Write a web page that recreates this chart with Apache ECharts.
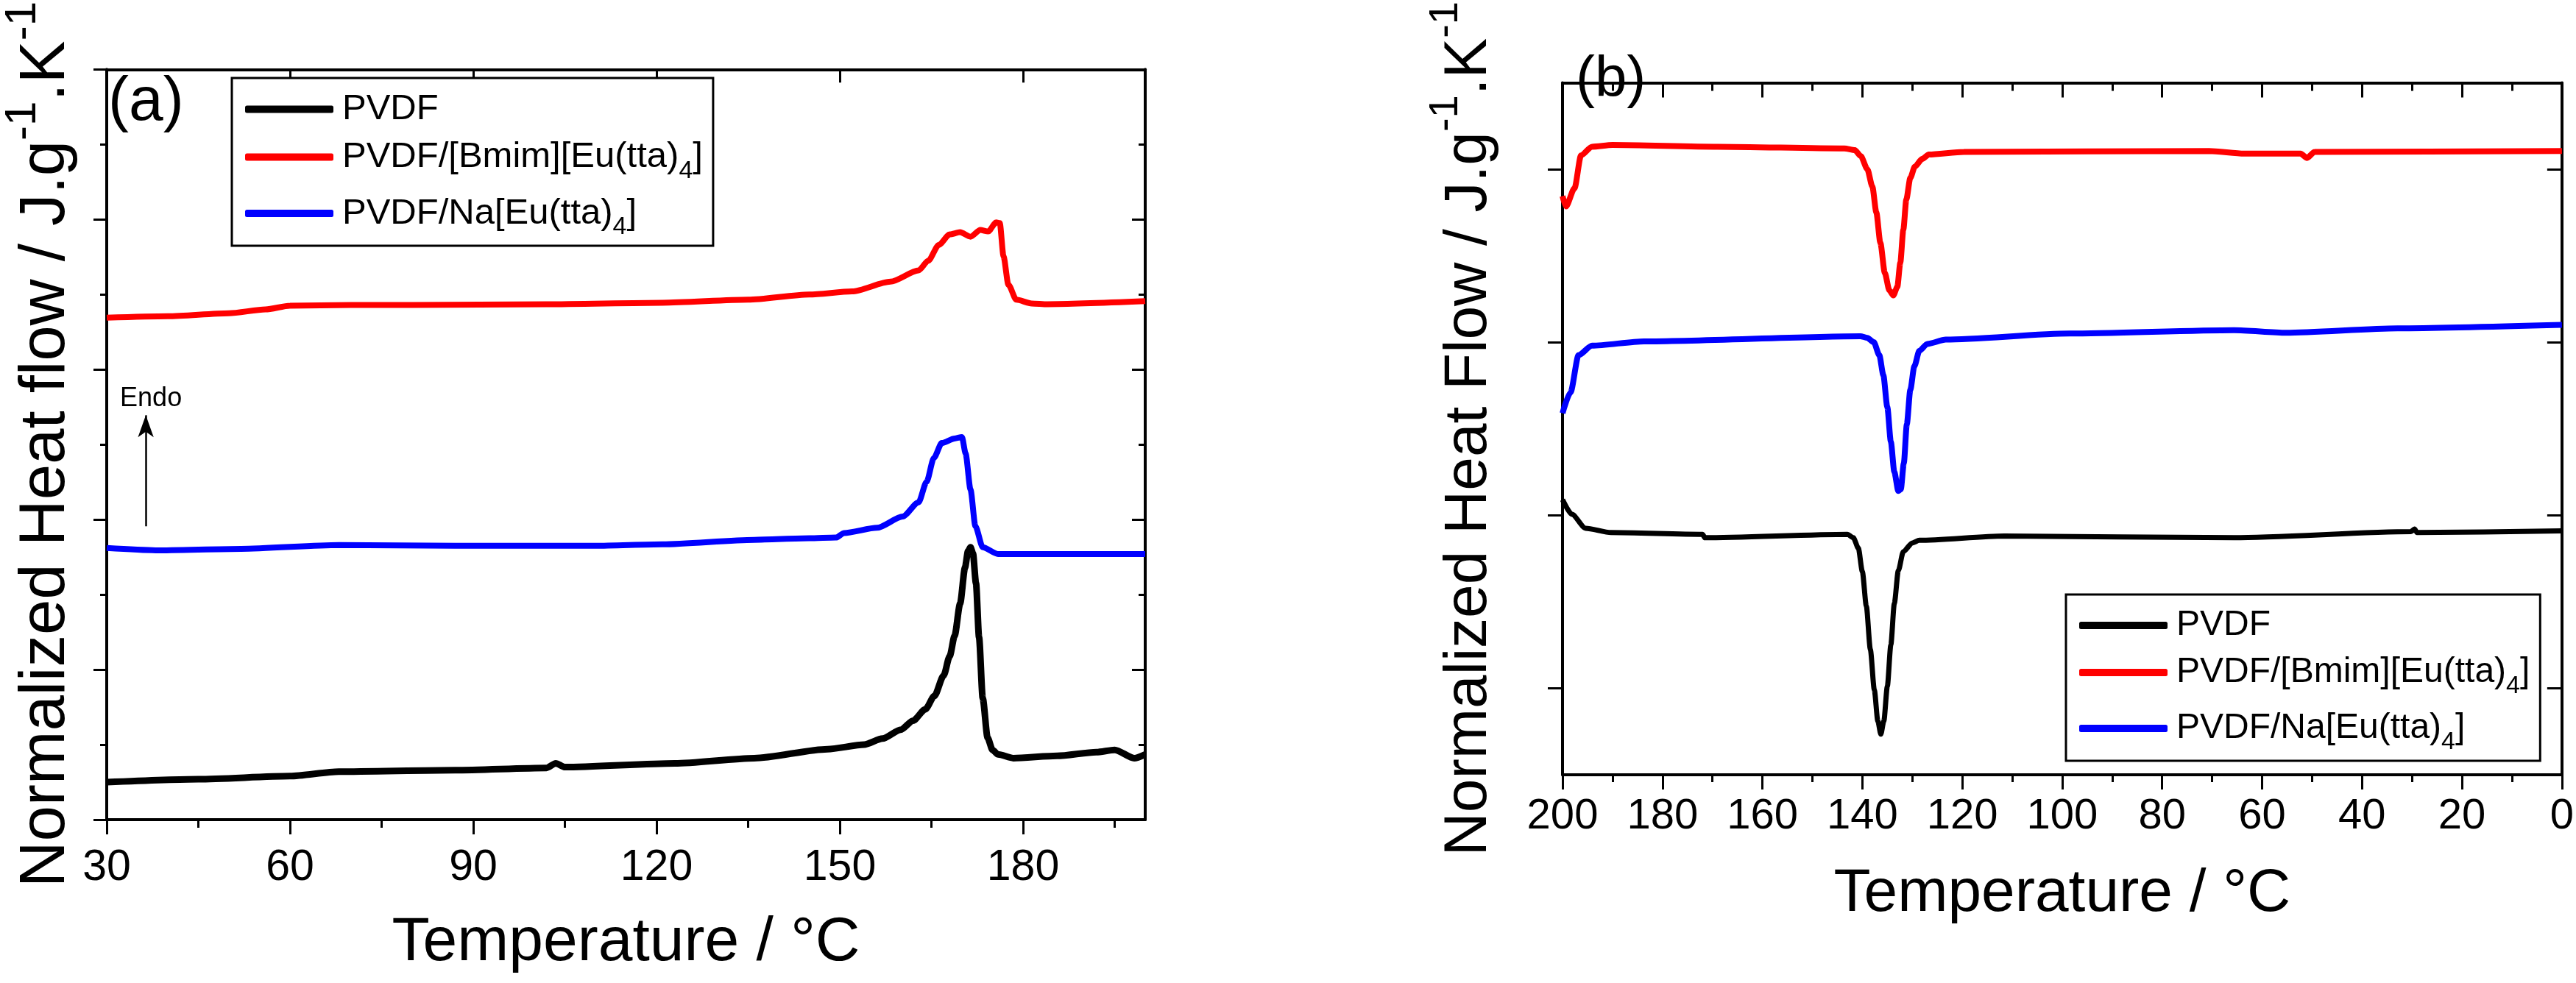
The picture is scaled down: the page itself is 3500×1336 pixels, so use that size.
<!DOCTYPE html>
<html>
<head>
<meta charset="utf-8">
<script src="https://cdn.jsdelivr.net/npm/echarts@6.0.0/dist/echarts.min.js"></script>
<style>
  html, body { margin: 0; padding: 0; background: #fff; }
  #chart { width: 3500px; height: 1336px; }
</style>
</head>
<body>
<div id="chart"></div>
<script>
// ---- data (temperature in ºC, heat flow in arbitrary stacked units) ----
var seriesNames = ['PVDF', 'PVDF/[Bmim][Eu(tta)4]', 'PVDF/Na[Eu(tta)4]']
var seriesColors = ['#000000', '#ff0000', '#0000ff']

// (a) heating scans
var heatPVDF = [[30, 0.50], [45, 0.54], [60, 0.58], [68, 0.64], [87, 0.66], [102, 0.69], [103.5, 0.75], [105, 0.70],
  [123, 0.75], [136, 0.82], [148, 0.94], [154, 1.00], [157, 1.08], [160, 1.20], [162, 1.32], [164, 1.47],
  [165.5, 1.65], [167, 1.92], [168, 2.18], [168.8, 2.45], [169.7, 2.88], [170.5, 3.36], [171.0, 3.58],
  [171.4, 3.63], [171.8, 3.55], [172.3, 3.15], [172.8, 2.43], [173.4, 1.62], [174.2, 1.09], [175, 0.93],
  [175.9, 0.87], [178.4, 0.82], [185.6, 0.85], [192, 0.90], [195, 0.93], [198.2, 0.82], [200, 0.87]]
var heatBmim = [[30, 6.69], [40, 6.71], [50, 6.75], [56, 6.80], [60, 6.85], [70, 6.86], [80, 6.86], [102, 6.87],
  [121, 6.89], [135, 6.93], [145, 7.00], [152, 7.04], [158.3, 7.17], [162.9, 7.32], [164.5, 7.45], [166.2, 7.66],
  [168, 7.80], [169.7, 7.83], [171.4, 7.77], [173, 7.86], [174.3, 7.84], [175.6, 7.96], [176.2, 7.95],
  [176.8, 7.51], [177.6, 7.13], [178.9, 6.93], [181.4, 6.88], [184, 6.87], [200, 6.91]]
var heatNa = [[30, 3.62], [38, 3.59], [52, 3.61], [68, 3.66], [87, 3.65], [110, 3.65], [121, 3.67], [136, 3.73],
  [145, 3.75], [149.4, 3.76], [150.7, 3.82], [156.1, 3.89], [160.3, 4.04], [162.9, 4.23], [164.2, 4.50],
  [165.4, 4.82], [166.7, 5.02], [168.8, 5.08], [170, 5.10], [170.6, 4.88], [171.4, 4.40], [172.2, 3.91],
  [173.4, 3.63], [175.9, 3.54], [181.4, 3.54], [200, 3.54]]

// (b) cooling scans
var coolPVDF = [[200, 3.18], [198.1, 3.01], [195.4, 2.85], [190.3, 2.80], [172, 2.78], [171.5, 2.74], [143, 2.78],
  [141.8, 2.74], [140.8, 2.62], [140, 2.35], [139.2, 1.95], [138.4, 1.45], [137.6, 0.98], [136.9, 0.62],
  [136.3, 0.47], [135.7, 0.62], [135, 1.02], [134.3, 1.50], [133.6, 1.98], [132.8, 2.36], [131.8, 2.58],
  [130, 2.68], [128.6, 2.71], [111.6, 2.76], [65.6, 2.74], [30.2, 2.81], [29.5, 2.84], [29, 2.80], [0, 2.82]]
var coolBmim = [[200, 6.69], [199.3, 6.57], [197.6, 6.78], [196.3, 7.16], [194.1, 7.26], [190, 7.28], [169, 7.26],
  [143.6, 7.24], [141.5, 7.22], [140.3, 7.15], [139, 7.00], [138, 6.80], [137.2, 6.50], [136.4, 6.15],
  [135.5, 5.80], [134.6, 5.60], [133.8, 5.54], [133, 5.64], [132.4, 5.92], [131.8, 6.30], [131.2, 6.65],
  [130.4, 6.90], [129.5, 7.03], [128, 7.12], [126.7, 7.17], [119.7, 7.20], [70.6, 7.21], [63.6, 7.18],
  [52.3, 7.18], [51, 7.13], [49.5, 7.20], [0, 7.21]]
var coolNa = [[200, 4.18], [198.4, 4.42], [196.8, 4.85], [194.1, 4.96], [183.7, 5.01], [140.4, 5.07], [139, 5.05],
  [137.7, 5.00], [136.6, 4.85], [135.8, 4.62], [135, 4.25], [134.3, 3.85], [133.6, 3.50], [132.8, 3.28],
  [132.3, 3.30], [131.7, 3.60], [131.1, 4.05], [130.4, 4.45], [129.6, 4.72], [128.6, 4.90], [127, 4.98],
  [123.3, 5.03], [98.5, 5.10], [65.6, 5.14], [55.2, 5.11], [32.9, 5.16], [0, 5.20]]

// tick positions
var aMajorT = [30, 60, 90, 120, 150, 180]
var aMinorT = [45, 75, 105, 135, 165, 195]
var bHeatTicks = [1, 3, 5, 7]

// Endo arrow (a): x, from, to
var endoArrow = [36.4, 3.91, 5.39]

var FONT = '"Liberation Sans", Arial, Helvetica, sans-serif'

var chart = echarts.init(document.getElementById('chart'))

function frameLine() {
  return { show: true, onZero: false, lineStyle: { color: '#000', width: 4 } }
}
function tickStyle() {
  return { color: '#000', width: 3 }
}
function legendName(name) {
  return name.replace(')4]', '){sub|4}]')
}
function legendCfg(left, top, size) {
  return {
    orient: 'vertical',
    left: left,
    top: top,
    data: seriesNames,
    icon: 'roundRect',
    itemWidth: 120,
    itemHeight: 10,
    itemGap: 16,
    padding: [18, 14, 8, 18],
    borderColor: '#000',
    borderWidth: 3,
    backgroundColor: '#fff',
    selectedMode: false,
    formatter: legendName,
    textStyle: {
      fontFamily: FONT,
      fontSize: size,
      color: '#000',
      padding: [0, 0, 0, 7],
      rich: {
        sub: { fontFamily: FONT, fontSize: Math.round(size * 0.7), color: '#000', verticalAlign: 'bottom', padding: [38, 0, 0, 0] }
      }
    }
  }
}
function lineSeries(name, color, data, xi, yi, width) {
  return {
    name: name,
    type: 'line',
    xAxisIndex: xi,
    yAxisIndex: yi,
    data: data,
    showSymbol: false,
    smooth: 0.25,
    smoothMonotone: 'x',
    lineStyle: { color: color, width: width },
    itemStyle: { color: color },
    z: 3
  }
}

var option = {
  animation: false,
  backgroundColor: '#fff',
  grid: [
    { left: 138, right: 1944, top: 64, bottom: 222 },
    { left: 2123, right: 15, top: 55, bottom: 283 }
  ],
  xAxis: [
    // (a) bottom: labels + major ticks
    {
      gridIndex: 0, type: 'value', position: 'bottom', min: 30, max: 200, interval: 30,
      axisLine: frameLine(),
      axisTick: { show: true, inside: false, length: 20, lineStyle: tickStyle(), customValues: aMajorT },
      axisLabel: { show: true, customValues: aMajorT, margin: 36, fontSize: 59, fontFamily: FONT, color: '#000' },
      splitLine: { show: false },
      name: 'Temperature / °C', nameLocation: 'middle', nameGap: 126,
      nameTextStyle: { fontSize: 84, fontFamily: FONT, color: '#000' }
    },
    // (a) bottom: minor ticks
    {
      gridIndex: 0, type: 'value', position: 'bottom', min: 30, max: 200, interval: 15,
      axisLine: { show: false },
      axisTick: { show: true, inside: false, length: 11, lineStyle: tickStyle(), customValues: aMinorT },
      axisLabel: { show: false },
      splitLine: { show: false }
    },
    // (a) top mirror: major
    {
      gridIndex: 0, type: 'value', position: 'top', min: 30, max: 200, interval: 30,
      axisLine: frameLine(),
      axisTick: { show: true, inside: true, length: 18, lineStyle: tickStyle(), customValues: aMajorT },
      axisLabel: { show: false },
      splitLine: { show: false }
    },
    // (a) top mirror: minor
    {
      gridIndex: 0, type: 'value', position: 'top', min: 30, max: 200, interval: 15,
      axisLine: { show: false },
      axisTick: { show: true, inside: true, length: 9, lineStyle: tickStyle(), customValues: aMinorT },
      axisLabel: { show: false },
      splitLine: { show: false }
    },
    // (b) bottom
    {
      gridIndex: 1, type: 'value', position: 'bottom', min: 0, max: 200, interval: 20, inverse: true,
      axisLine: frameLine(),
      axisTick: { show: true, inside: false, length: 20, lineStyle: tickStyle() },
      minorTick: { show: true, splitNumber: 2, length: 10, lineStyle: tickStyle() },
      axisLabel: { show: true, margin: 28, fontSize: 58, fontFamily: FONT, color: '#000', showMinLabel: true, showMaxLabel: true },
      splitLine: { show: false },
      name: 'Temperature / °C', nameLocation: 'middle', nameGap: 121,
      nameTextStyle: { fontSize: 82, fontFamily: FONT, color: '#000' }
    },
    // (b) top mirror
    {
      gridIndex: 1, type: 'value', position: 'top', min: 0, max: 200, interval: 20, inverse: true,
      axisLine: frameLine(),
      axisTick: { show: true, inside: true, length: 20, lineStyle: tickStyle() },
      minorTick: { show: true, splitNumber: 2, length: 11, lineStyle: tickStyle() },
      axisLabel: { show: false },
      splitLine: { show: false }
    }
  ],
  yAxis: [
    // (a) left
    {
      gridIndex: 0, type: 'value', position: 'left', min: 0, max: 10, interval: 2,
      axisLine: frameLine(),
      axisTick: { show: true, inside: false, length: 18, lineStyle: tickStyle() },
      minorTick: { show: true, splitNumber: 2, length: 9, lineStyle: tickStyle() },
      axisLabel: { show: false },
      splitLine: { show: false },
      name: 'Normalized Heat flow / J.g{sup|-1}.K{sup|-1}', nameLocation: 'middle', nameGap: 20,
      nameTextStyle: {
        fontSize: 87, fontFamily: FONT, color: '#000', lineHeight: 124,
        rich: { sup: { fontSize: 60, fontFamily: FONT, color: '#000', lineHeight: 64, verticalAlign: 'top' } }
      }
    },
    // (a) right mirror
    {
      gridIndex: 0, type: 'value', position: 'right', min: 0, max: 10, interval: 2,
      axisLine: frameLine(),
      axisTick: { show: true, inside: true, length: 18, lineStyle: tickStyle() },
      minorTick: { show: true, splitNumber: 2, length: 9, lineStyle: tickStyle() },
      axisLabel: { show: false },
      splitLine: { show: false }
    },
    // (b) left
    {
      gridIndex: 1, type: 'value', position: 'left', min: 0, max: 8, interval: 2,
      axisLine: frameLine(),
      axisTick: { show: true, inside: false, length: 20, lineStyle: tickStyle(), customValues: bHeatTicks },
      axisLabel: { show: false },
      splitLine: { show: false },
      name: 'Normalized Heat Flow / J.g{sup|-1}.K{sup|-1}', nameLocation: 'middle', nameGap: 68,
      nameTextStyle: {
        fontSize: 82, fontFamily: FONT, color: '#000', lineHeight: 118,
        rich: { sup: { fontSize: 56, fontFamily: FONT, color: '#000', lineHeight: 60, verticalAlign: 'top' } }
      }
    },
    // (b) right mirror
    {
      gridIndex: 1, type: 'value', position: 'right', min: 0, max: 8, interval: 2,
      axisLine: frameLine(),
      axisTick: { show: true, inside: true, length: 20, lineStyle: tickStyle(), customValues: bHeatTicks },
      axisLabel: { show: false },
      splitLine: { show: false }
    }
  ],
  legend: [
    legendCfg(315, 106, 49),
    legendCfg(2807, 808, 48)
  ],
  graphic: [
    { type: 'text', left: 147, top: 98, style: { text: '(a)', fontSize: 84, fontFamily: FONT, fill: '#000' } },
    { type: 'text', left: 2141, top: 70, style: { text: '(b)', fontSize: 78, fontFamily: FONT, fill: '#000' } }
  ],
  series: [
    lineSeries(seriesNames[0], seriesColors[0], heatPVDF, 0, 0, 9),
    lineSeries(seriesNames[1], seriesColors[1], heatBmim, 0, 0, 8),
    lineSeries(seriesNames[2], seriesColors[2], heatNa, 0, 0, 8),
    lineSeries(seriesNames[0], seriesColors[0], coolPVDF, 4, 2, 7),
    lineSeries(seriesNames[1], seriesColors[1], coolBmim, 4, 2, 8),
    lineSeries(seriesNames[2], seriesColors[2], coolNa, 4, 2, 8)
  ]
}

// Endo arrow drawn on the (a) PVDF series in data coordinates
option.series[0].markLine = {
  silent: true,
  symbol: ['none', 'arrow'],
  symbolSize: [16, 30],
  lineStyle: { color: '#000', width: 2.5, type: 'solid' },
  label: { show: true, position: 'end', formatter: 'Endo', fontSize: 36, fontFamily: FONT, color: '#000', distance: 4, offset: [7, 0] },
  data: [[{ coord: [endoArrow[0], endoArrow[1]] }, { coord: [endoArrow[0], endoArrow[2]] }]]
}

chart.setOption(option)
</script>
</body>
</html>
